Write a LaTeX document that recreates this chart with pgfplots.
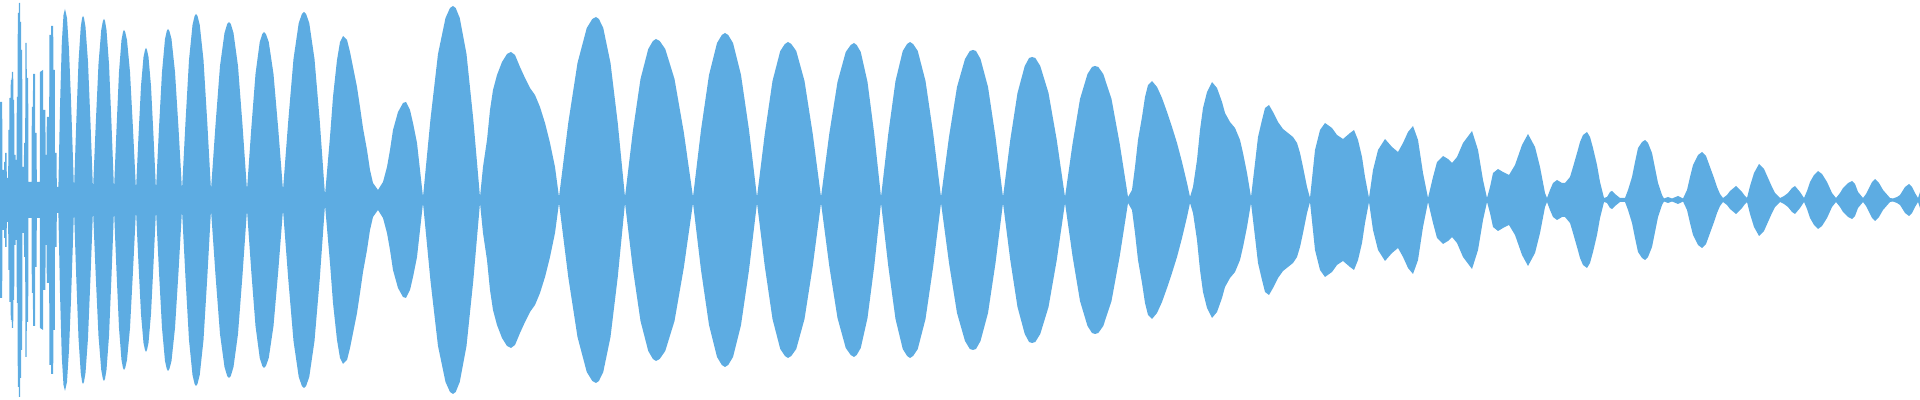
\documentclass[border=0pt]{standalone}
\usepackage{pgfplots}
\usepackage{pgfplotstable}
\pgfplotsset{compat=1.18}
\usepgfplotslibrary{fillbetween}
\definecolor{wave}{RGB}{93,172,226}

% upper envelope of the waveform (x in samples, a = amplitude)
\pgfplotstableread{
x a
0 98
2.2 98
2.4 30
4 30
4.2 38
5 38
5.2 47
6.6 47
6.8 22
8.2 22
8.4 70
9.3 70
9.5 102
10.6 102
10.8 120
11.7 120
11.9 128
13.2 128
13.4 100
14.2 100
14.4 45
15.5 45
15.7 40
16.6 40
16.8 103
17.6 103
17.8 187
18.8 187
19 197
20 197
20.2 178
21 178
21.2 150
22.2 150
22.4 33
23.9 33
24.1 57
25.2 57
25.4 157
26.6 157
26.8 122
28.2 122
28.4 18
31.6 18
31.8 93
32.9 93
33.1 126
35 126
35.2 67
36.6 67
36.8 18
39.8 18
40 128
43 130
43.2 90
45.4 90
45.6 45
46.6 45
46.8 83
49.2 83
49.4 165
51 165
51.2 174
53.2 174
53.4 130
54.8 130
55 47
56.6 47
56.8 13
58.4 13
60 93
61.8 157
63.5 185
65 191
67 182
69 150
71 100
72.5 55
74 10
76.25 77
78.5 138
80.75 173
82.1 182
83 184
84 182
85.5 173
88 138
90.5 77
93 10
95.75 76
98.5 136
101.25 170
102.9 179
104 181
105 179
106.5 170
109 136
111.5 76
114 10
116.5 71
119 128
121.5 160
123 168
124 170
125.2 168
127 160
130 128
133 71
136 10
138.5 64
141 114
143.5 143
145 150
146 152
147 150
148.5 143
151 114
153.5 64
156 10
159 72
162 128
165 161
166.8 169
168 171
169.4 169
171.5 161
175 128
178.5 72
182 10
185.5 78
189 140
192.5 175
194.6 184
196 186
197.5 184
199.75 175
203.5 140
207.25 78
211 10
215.5 75
220 134
224.5 167
227.2 176
229 178
230.8 176
233.5 167
238 134
242.5 75
247 10
251.25 71
255.5 126
259.75 158
262.3 166
264 168
265.9 166
268.75 158
273.5 126
278.25 71
283 10
288.25 79
293.5 141
298.75 177
301.9 186
304 188
306.1 186
309.25 177
314.5 141
319.75 79
325 5
330 63
333 103
337 140
340 158
343 164
347 160
350 148
353 133
357 113
360 93
363 72
367 50
370 30
373 17
378 10
383 18
387 33
390 50
393 70
398 88
403 97
406 98
410 90
413 77
417 57
420 30
423 3
430.5 81
438 146
445.5 182
450 192
453 194
455.7 192
459.75 182
466.5 146
473.25 81
480 3
483 33
487 60
490 90
493 110
497 125
502 138
507 146
511 148
515 145
520 133
525 122
530 112
535 105
540 93
545 77
550 57
555 33
559 3
568.25 77
577.5 137
586.75 172
592.3 181
596 183
598.9 181
603.25 172
610.5 137
617.75 77
625 3
632.75 68
640.5 121
648.25 151
652.9 159
656 161
659.7 159
665.25 151
674.5 121
683.75 68
693 3
701 70
709 125
717 157
721.8 165
725 167
728.2 165
733 157
741 125
749 70
757 3
764.75 66
772.5 119
780.25 149
784.9 156
788 158
791.3 156
796.25 149
804.5 119
812.75 66
821 3
829.25 66
837.5 118
845.75 148
850.7 155
854 157
856.7 155
860.75 148
867.5 118
874.25 66
881 3
888.25 66
895.5 119
902.75 149
907.1 156
910 158
913.1 156
917.75 149
925.5 119
933.25 66
941 3
949 63
957 113
965 141
969.8 149
973 150
976 149
980.5 141
988 113
995.5 63
1003 3
1010.25 60
1017.5 107
1024.75 134
1029.1 142
1032 143
1035.3 142
1040.25 134
1048.5 107
1056.75 60
1065 3
1072.5 56
1080 101
1087.5 126
1092 133
1095 134
1098.3 133
1103.25 126
1111.5 101
1119.75 56
1128 3
1132 10
1135 33
1138 60
1142 83
1145 103
1148 115
1152 119
1157 113
1162 102
1167 88
1172 73
1177 57
1182 38
1187 17
1190 3
1193 13
1197 40
1200 70
1203 92
1207 108
1212 118
1217 112
1222 98
1225 87
1230 78
1235 72
1240 60
1243 47
1247 27
1251 3
1255 37
1258 63
1262 80
1265 92
1269 95
1273 88
1278 78
1283 71
1288 67
1293 63
1297 57
1300 47
1303 33
1307 13
1310 2
1315 50
1320 70
1325 77
1332 72
1337 65
1343 61
1350 67
1354 70
1358 60
1362 43
1365 23
1369 2
1373 30
1378 50
1385 61
1392 53
1398 48
1403 57
1408 68
1413 74
1418 60
1423 27
1428 2
1433 23
1437 38
1443 44
1448 41
1452 37
1457 43
1463 57
1472 69
1478 50
1483 20
1487 2
1490 13
1493 27
1498 31
1503 28
1509 25
1515 35
1522 55
1528 66
1535 53
1540 33
1545 7
1547 2
1550 10
1553 17
1557 20
1562 17
1565 17
1570 23
1573 33
1577 47
1580 58
1583 65
1587 68
1590 63
1593 52
1597 35
1600 18
1604 2
1607 3
1610 8
1612 9
1615 6
1620 2
1625 2
1628 10
1632 23
1635 38
1638 52
1642 58
1645 60
1648 57
1652 47
1655 32
1658 17
1662 5
1664 1.5
1668 3
1672 1.5
1678 4
1683 1.5
1687 10
1690 23
1693 35
1698 45
1702 48
1706 44
1710 33
1714 22
1717 13
1720 6
1723 2
1727 5
1730 9
1736 14
1742 8
1745 4
1747 2
1750 14
1754 27
1759 36
1764 31
1768 22
1772 13
1775 7
1780 2
1784 4
1788 7
1792 12
1795 14
1800 8
1804 2
1807 9
1810 18
1814 25
1818 29
1822 26
1827 18
1832 7
1836 2
1840 7
1843 12
1848 17
1852 19
1855 16
1858 8
1863 2
1866 6
1868 10
1872 18
1875 21
1879 17
1883 10
1890 2
1893 1.5
1897 3
1900 5
1905 13
1909 16
1912 13
1915 7
1918 2
1920 8
}\env

\begin{document}
\begin{tikzpicture}
\begin{axis}[hide axis, scale only axis,
	width=19.2cm, height=4cm,
	xmin=0, xmax=1920, ymin=-200, ymax=200]
\addplot [draw=none, name path=top] table [x=x, y=a] {\env};
\addplot [draw=none, name path=bot] table [x=x, y expr=-\thisrow{a}] {\env};
\addplot [fill=wave, draw=none] fill between [of=top and bot];
\end{axis}
\pgfresetboundingbox
\useasboundingbox (current axis.south west) rectangle (current axis.north east);
\end{tikzpicture}
\end{document}
